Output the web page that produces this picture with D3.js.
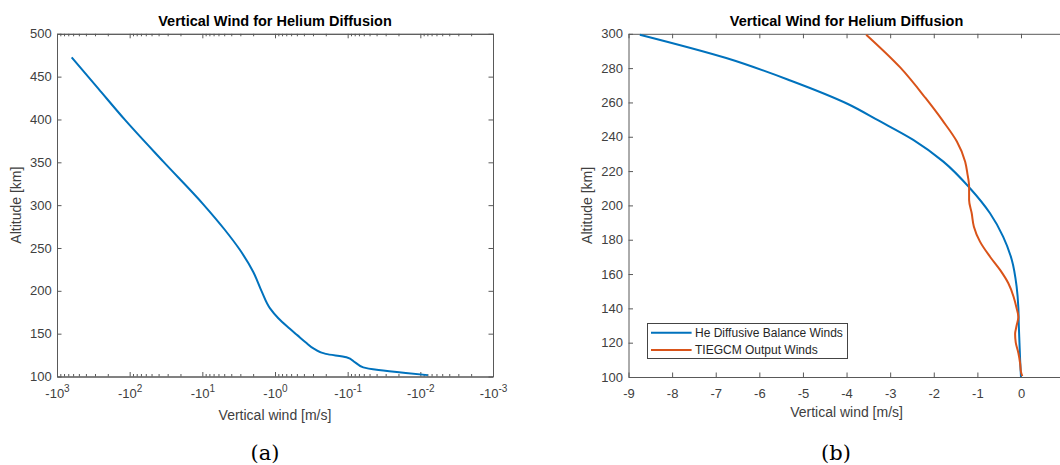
<!DOCTYPE html>
<html>
<head>
<meta charset="utf-8">
<script src="https://cdn.jsdelivr.net/npm/d3@7"></script>
<style>
  body { margin: 0; background: #fff; }
  svg { display: block; font-family: "Liberation Sans", Arial, sans-serif; }
  .tick text { font-size: 13px; fill: #404040; }
  .domain, .tick line { stroke: #595959; }
</style>
</head>
<body>
<div id="chart"></div>
<script>
// panel (a): wind magnitude on a log axis, all winds are negative
const altitudeA = [101.6, 104, 107.5, 110.6, 116.6, 122.5, 126.4, 132, 140, 148, 156, 168, 179.5, 199, 222, 247.6, 271, 301, 350.8, 399.5, 436, 472.5];
const windA = [-0.0079, -0.0159, -0.0376, -0.061, -0.079, -0.104, -0.2, -0.285, -0.38, -0.49, -0.63, -0.9, -1.17, -1.52, -1.99, -3.03, -4.88, -9.7, -34.4, -115.9, -270, -628];
const yTicksA = [100, 150, 200, 250, 300, 350, 400, 450, 500];
const xExponentsA = [3, 2, 1, 0, -1, -2, -3];

// panel (b)
const altitudeHe = [100, 110, 120, 130, 140.2, 152.6, 168.2, 181.8, 195.4, 210, 225.5, 238.2, 249.5, 259.1, 272.8, 285.9, 299.5];
const windHe = [0, -0.02, -0.035, -0.05, -0.06, -0.1, -0.21, -0.41, -0.71, -1.17, -1.78, -2.47, -3.27, -3.97, -5.29, -6.76, -8.74];
const altitudeTiegcm = [100.5, 103, 108, 114, 120, 125, 130, 135, 140, 146.8, 154.6, 162.4, 170.1, 178.9, 187.6, 195.4, 203.2, 210.9, 218.7, 225.5, 237.2, 249.5, 262.6, 280.4, 299.5];
const windTiegcm = [0.03, 0, -0.02, -0.06, -0.12, -0.135, -0.1, -0.06, -0.1, -0.17, -0.29, -0.48, -0.71, -0.94, -1.08, -1.13, -1.19, -1.19, -1.23, -1.28, -1.47, -1.8, -2.19, -2.77, -3.55];
const xTicksB = [-9, -8, -7, -6, -5, -4, -3, -2, -1, 0, 1];
const yTicksB = [100, 120, 140, 160, 180, 200, 220, 240, 260, 280, 300];
const legendLabels = ["He Diffusive Balance Winds", "TIEGCM Output Winds"];

const COLORS = ["#0072bd", "#d95319"];
const TITLE = "Vertical Wind for Helium Diffusion";
const WIDTH = 1060, HEIGHT = 465;

const svg = d3.select("#chart").append("svg")
  .attr("width", WIDTH)
  .attr("height", HEIGHT);

const plotTop = 33.8;

function frame(left, right, bottom, captionX, caption, xlabelY) {
  const cx = (left + right) / 2;
  svg.append("text")
    .attr("x", cx).attr("y", 26.4)
    .attr("text-anchor", "middle")
    .attr("font-size", "14.5px").attr("font-weight", "bold")
    .attr("fill", "#000")
    .text(TITLE);

  svg.append("text")
    .attr("x", cx).attr("y", xlabelY)
    .attr("text-anchor", "middle")
    .attr("font-size", "14px").attr("fill", "#404040")
    .text("Vertical wind [m/s]");

  svg.append("text")
    .attr("transform", `translate(${left - 36.2},${(plotTop + bottom) / 2}) rotate(-90)`)
    .attr("text-anchor", "middle")
    .attr("font-size", "14px").attr("fill", "#404040")
    .text("Altitude [km]");

  svg.append("text")
    .attr("x", captionX).attr("y", 460)
    .attr("text-anchor", "middle")
    .attr("font-family", "'DejaVu Serif', serif")
    .attr("font-size", "21px").attr("fill", "#000")
    .text(caption);
}

// ---------- (a) ----------
{
  const left = 57, right = 493, bottom = 376.5;
  const x = d3.scaleLog().domain([1e3, 1e-3]).range([left, right]);
  const y = d3.scaleLinear().domain([100, 500]).range([bottom, plotTop]);
  const majors = xExponentsA.map(e => Math.pow(10, e));
  const minors = x.ticks().filter(v => !majors.some(m => Math.abs(m - v) / m < 1e-6));

  const g = svg.append("g");
  const xb = g.append("g").attr("transform", `translate(0,${bottom})`)
    .call(d3.axisBottom(x).tickValues(majors).tickSize(-4.5).tickSizeOuter(0).tickPadding(12).tickFormat(() => "-10"));
  xb.selectAll(".tick text").append("tspan")
    .attr("dy", "-0.55em").attr("font-size", "10px")
    .text((d, i) => String(xExponentsA[i]));
  g.append("g").attr("transform", `translate(0,${bottom})`)
    .call(d3.axisBottom(x).tickValues(minors).tickSize(-2.5).tickSizeOuter(0).tickFormat(""));
  g.append("g").attr("transform", `translate(0,${plotTop})`)
    .call(d3.axisTop(x).tickValues(majors).tickSize(-4.5).tickSizeOuter(0).tickFormat(""));
  g.append("g").attr("transform", `translate(0,${plotTop})`)
    .call(d3.axisTop(x).tickValues(minors).tickSize(-2.5).tickSizeOuter(0).tickFormat(""));
  g.append("g").attr("transform", `translate(${left},0)`)
    .call(d3.axisLeft(y).tickValues(yTicksA).tickSize(-4.5).tickSizeOuter(0).tickPadding(5.3));
  g.append("g").attr("transform", `translate(${right},0)`)
    .call(d3.axisRight(y).tickValues(yTicksA).tickSize(-4.5).tickSizeOuter(0).tickFormat(""));

  const rows = altitudeA.map((alt, i) => ({ alt, w: windA[i] }));
  g.append("path")
    .datum(rows)
    .attr("fill", "none")
    .attr("stroke", COLORS[0])
    .attr("stroke-width", 2)
    .attr("d", d3.line().x(d => x(Math.abs(d.w))).y(d => y(d.alt)).curve(d3.curveMonotoneY));

  frame(left, right, bottom, 265, "(a)", 419.6);
}

// ---------- (b) ----------
{
  // the figure is cropped: the right edge of this box falls past the page
  const left = 628.5, right = 1064.6, bottom = 377;
  const x = d3.scaleLinear().domain([-9, 1]).range([left, right]);
  const y = d3.scaleLinear().domain([100, 300]).range([bottom, plotTop]);

  const g = svg.append("g");
  g.append("g").attr("transform", `translate(0,${bottom})`)
    .call(d3.axisBottom(x).tickValues(xTicksB).tickSize(-4.5).tickSizeOuter(0).tickPadding(12)
      .tickFormat(d => x(d) + 6 < WIDTH ? String(d) : ""));
  g.append("g").attr("transform", `translate(0,${plotTop})`)
    .call(d3.axisTop(x).tickValues(xTicksB).tickSize(-4.5).tickSizeOuter(0).tickFormat(""));
  g.append("g").attr("transform", `translate(${left},0)`)
    .call(d3.axisLeft(y).tickValues(yTicksB).tickSize(-4.5).tickSizeOuter(0).tickPadding(5.5));
  g.append("g").attr("transform", `translate(${right},0)`)
    .call(d3.axisRight(y).tickValues(yTicksB).tickSize(-4.5).tickSizeOuter(0).tickFormat(""));

  const series = [
    altitudeHe.map((alt, i) => ({ alt, w: windHe[i] })),
    altitudeTiegcm.map((alt, i) => ({ alt, w: windTiegcm[i] }))
  ];
  const line = d3.line().x(d => x(d.w)).y(d => y(d.alt)).curve(d3.curveMonotoneY);
  g.selectAll(".series")
    .data(series)
    .enter()
    .append("path")
    .attr("fill", "none")
    .attr("stroke", (d, i) => COLORS[i])
    .attr("stroke-width", 2)
    .attr("d", line);

  // legend
  const lg = g.append("g");
  lg.append("rect")
    .attr("x", 647.5).attr("y", 323.5)
    .attr("width", 200).attr("height", 35)
    .attr("fill", "#fff").attr("stroke", "#444");
  const item = lg.selectAll(".item")
    .data(legendLabels)
    .enter()
    .append("g")
    .attr("transform", (d, i) => `translate(0,${332.8 + i * 17.2})`);
  item.append("line")
    .attr("x1", 651).attr("x2", 691.6)
    .attr("stroke", (d, i) => COLORS[i])
    .attr("stroke-width", 2);
  item.append("text")
    .attr("x", 695).attr("y", 4.2)
    .attr("font-size", "12px").attr("fill", "#262626")
    .text(d => d);

  frame(left, right, bottom, 836, "(b)", 416.6);
}
</script>
</body>
</html>
